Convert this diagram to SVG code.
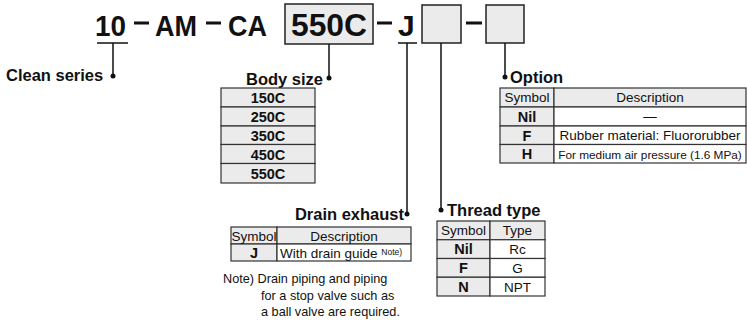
<svg xmlns="http://www.w3.org/2000/svg" width="747" height="320" viewBox="0 0 747 320">
<style>
text{font-family:"Liberation Sans",Arial,Helvetica,sans-serif;fill:#111}
.big{font-size:30px;font-weight:bold}
.hd{font-size:16.5px;font-weight:bold}
.t{font-size:13.5px}
.tb{font-size:14.5px;font-weight:bold}
.note{font-size:12.7px}
.box{fill:#ebebeb;stroke:#222;stroke-width:1.5}
.cell{fill:#ebebeb;stroke:#333;stroke-width:1.2}
.wcell{fill:#fff;stroke:#333;stroke-width:1.2}
.ln{stroke:#111;stroke-width:1.5;fill:none}
.dash{stroke:#111;stroke-width:3}
.dot{fill:#111}
</style>
<g id="code">
<text class="big" x="95" y="36" textLength="31" lengthAdjust="spacingAndGlyphs">10</text>
<line class="ln" x1="97" y1="43" x2="128" y2="43"/>
<line class="dash" x1="134" y1="23" x2="149" y2="23"/>
<text class="big" x="155" y="36" textLength="42" lengthAdjust="spacingAndGlyphs">AM</text>
<line class="dash" x1="206" y1="23" x2="221" y2="23"/>
<text class="big" x="228" y="36" textLength="39" lengthAdjust="spacingAndGlyphs">CA</text>
<rect class="box" x="285" y="4" width="88" height="40"/>
<text class="big" x="329" y="36" text-anchor="middle" style="font-size:32px" textLength="76" lengthAdjust="spacingAndGlyphs">550C</text>
<line class="dash" x1="377" y1="23" x2="392" y2="23"/>
<text class="big" x="398" y="36">J</text>
<line class="ln" x1="398" y1="43" x2="417" y2="43"/>
<rect class="box" x="422" y="5" width="39" height="38"/>
<line class="dash" x1="466" y1="23" x2="482" y2="23"/>
<rect class="box" x="486" y="5" width="38" height="38"/>
</g>
<g id="connectors">
<line class="ln" x1="113" y1="43" x2="113" y2="76"/>
<circle class="dot" cx="113" cy="76" r="2.5"/>
<line class="ln" x1="329" y1="44" x2="329" y2="78"/>
<circle class="dot" cx="329" cy="78" r="2.5"/>
<line class="ln" x1="407" y1="43" x2="407" y2="214"/>
<circle class="dot" cx="407" cy="214" r="2.5"/>
<line class="ln" x1="441" y1="43" x2="441" y2="210"/>
<circle class="dot" cx="441" cy="210" r="2.5"/>
<line class="ln" x1="505" y1="43" x2="505" y2="77"/>
<circle class="dot" cx="505" cy="77" r="2.5"/>
</g>
<g id="clean-series">
<text class="hd" x="6" y="81">Clean series</text>
</g>
<g id="body-size">
<text class="hd" x="323" y="85" text-anchor="end">Body size</text>
<rect class="cell" x="221" y="88" width="94" height="19"/>
<rect class="cell" x="221" y="107" width="94" height="19"/>
<rect class="cell" x="221" y="126" width="94" height="18.5"/>
<rect class="cell" x="221" y="144.5" width="94" height="19"/>
<rect class="cell" x="221" y="163.5" width="94" height="19.5"/>
<text class="tb" x="268" y="103" text-anchor="middle">150C</text>
<text class="tb" x="268" y="122" text-anchor="middle">250C</text>
<text class="tb" x="268" y="140.5" text-anchor="middle">350C</text>
<text class="tb" x="268" y="159.5" text-anchor="middle">450C</text>
<text class="tb" x="268" y="178.5" text-anchor="middle">550C</text>
</g>
<g id="drain-exhaust">
<text class="hd" x="404" y="220" text-anchor="end">Drain exhaust</text>
<rect class="cell" x="231" y="227" width="46" height="17"/>
<rect class="cell" x="277" y="227" width="134" height="17"/>
<rect class="cell" x="231" y="244" width="46" height="17"/>
<rect class="wcell" x="277" y="244" width="134" height="17"/>
<text class="t" x="254" y="240.5" text-anchor="middle">Symbol</text>
<text class="t" x="344" y="240.5" text-anchor="middle">Description</text>
<text class="tb" x="254" y="258" text-anchor="middle">J</text>
<text class="t" x="280" y="258">With drain guide <tspan style="font-size:8.5px" dy="-3">Note)</tspan></text>
<text class="note" x="223" y="283">Note) Drain piping and piping</text>
<text class="note" x="261" y="299.5">for a stop valve such as</text>
<text class="note" x="261" y="316">a ball valve are required.</text>
</g>
<g id="thread-type">
<text class="hd" x="447" y="216">Thread type</text>
<rect class="cell" x="437" y="221" width="53" height="18.75"/>
<rect class="cell" x="490" y="221" width="55" height="18.75"/>
<rect class="cell" x="437" y="239.75" width="53" height="18.75"/>
<rect class="wcell" x="490" y="239.75" width="55" height="18.75"/>
<rect class="cell" x="437" y="258.5" width="53" height="18.75"/>
<rect class="wcell" x="490" y="258.5" width="55" height="18.75"/>
<rect class="cell" x="437" y="277.25" width="53" height="18.75"/>
<rect class="wcell" x="490" y="277.25" width="55" height="18.75"/>
<text class="t" x="463.5" y="235" text-anchor="middle">Symbol</text>
<text class="t" x="517.5" y="235" text-anchor="middle">Type</text>
<text class="tb" x="463.5" y="254" text-anchor="middle">Nil</text>
<text class="t" x="517.5" y="254" text-anchor="middle">Rc</text>
<text class="tb" x="463.5" y="273" text-anchor="middle">F</text>
<text class="t" x="517.5" y="273" text-anchor="middle">G</text>
<text class="tb" x="463.5" y="291.5" text-anchor="middle">N</text>
<text class="t" x="517.5" y="291.5" text-anchor="middle">NPT</text>
</g>
<g id="option">
<text class="hd" x="510" y="83">Option</text>
<rect class="cell" x="500" y="88" width="54" height="19"/>
<rect class="cell" x="554" y="88" width="192" height="19"/>
<rect class="cell" x="500" y="107" width="54" height="19"/>
<rect class="wcell" x="554" y="107" width="192" height="19"/>
<rect class="cell" x="500" y="126" width="54" height="18.5"/>
<rect class="wcell" x="554" y="126" width="192" height="18.5"/>
<rect class="cell" x="500" y="144.5" width="54" height="18.5"/>
<rect class="wcell" x="554" y="144.5" width="192" height="18.5"/>
<text class="t" x="527" y="102" text-anchor="middle">Symbol</text>
<text class="t" x="650" y="102" text-anchor="middle">Description</text>
<text class="tb" x="527" y="121.5" text-anchor="middle">Nil</text>
<text class="t" x="650" y="121" text-anchor="middle">—</text>
<text class="tb" x="527" y="140.5" text-anchor="middle">F</text>
<text class="t" x="650" y="140" text-anchor="middle">Rubber material: Fluororubber</text>
<text class="tb" x="527" y="159" text-anchor="middle">H</text>
<text x="650" y="158.5" text-anchor="middle" style="font-size:11.8px">For medium air pressure (1.6 MPa)</text>
</g>
</svg>
